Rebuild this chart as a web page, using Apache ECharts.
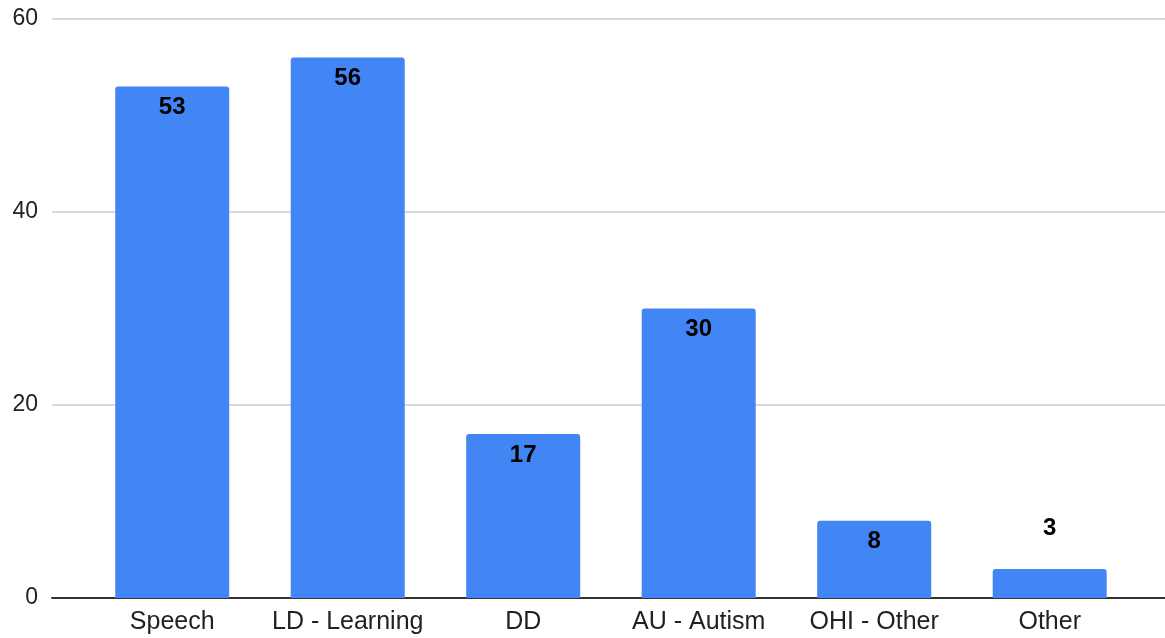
<!DOCTYPE html>
<html>
<head>
<meta charset="utf-8">
<script src="https://cdn.jsdelivr.net/npm/echarts@6/dist/echarts.min.js"></script>
<style>
  html, body { margin: 0; padding: 0; background: #fff; }
  #chart { width: 1165px; height: 638px; }
</style>
</head>
<body>
<div id="chart"></div>
<script>
// categories and counts
var categories = ['Speech', 'LD - Learning', 'DD', 'AU - Autism', 'OHI - Other', 'Other'];
var counts = [53, 56, 17, 30, 8, 3];
var yTicks = [0, 20, 40, 60];

var chart = echarts.init(document.getElementById('chart'));

var barData = counts.map(function (v, i) {
    var item = { value: [i, v] };
    if (v < 5) {
        // too short for the label inside, put it above
        item.label = { position: 'top', distance: 29 };
    }
    return item;
});

chart.setOption({
    animation: false,
    textStyle: { fontFamily: '"Liberation Sans", Arial, sans-serif' },
    grid: { left: 52, right: 0, top: 19, bottom: 40 },
    xAxis: {
        type: 'value',
        min: -0.685,
        max: 5.657,
        splitLine: { show: false },
        axisTick: { show: false },
        axisLine: { show: true, lineStyle: { color: '#333', width: 2 } },
        axisLabel: {
            customValues: categories.map(function (c, i) { return i; }),
            formatter: function (v) { return categories[Math.round(v)]; },
            color: '#222',
            fontSize: 25,
            margin: 12
        }
    },
    yAxis: {
        type: 'value',
        min: yTicks[0],
        max: yTicks[yTicks.length - 1],
        interval: 20,
        axisLine: { show: false },
        axisTick: { show: false },
        axisLabel: { color: '#222', fontSize: 23, margin: 14 },
        splitLine: { lineStyle: { color: '#ccc', width: 1.5 } }
    },
    series: [{
        type: 'bar',
        data: barData,
        barWidth: 114,
        itemStyle: { color: '#4285F4', borderRadius: [3, 3, 0, 0] },
        label: {
            show: true,
            position: 'insideTop',
            distance: 9,
            color: '#000',
            fontWeight: 'bold',
            fontSize: 24,
            formatter: function (p) { return p.value[1]; }
        }
    }]
});
</script>
</body>
</html>
